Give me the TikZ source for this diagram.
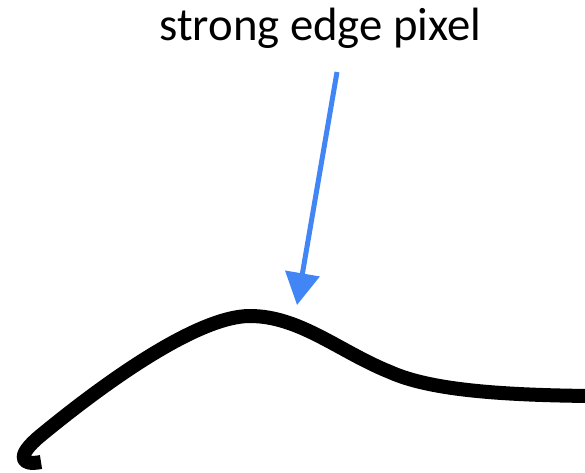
\documentclass[tikz,border=0pt]{standalone}
\usepackage{fontspec}
\setmainfont{Carlito}
\usetikzlibrary{arrows.meta}
\definecolor{pointerblue}{HTML}{4285F4}
\tikzset{
  caption/.style={font=\fontsize{46.7}{56}\selectfont, inner sep=0pt, anchor=base},
  pointer/.style={-{Triangle[length=32pt, width=34pt]}, line width=5pt, draw=pointerblue},
  edgeline/.style={line width=14pt, draw=black, line cap=butt, line join=round},
}
\begin{document}
\begin{tikzpicture}[x=1pt, y=-1pt]
\useasboundingbox (0,0) rectangle (585,472);

\node[caption] (label) at (320.5,40) {strong edge pixel};

\coordinate (tail) at (337,72);
\coordinate (tip) at (297,305);
\draw[pointer] (tail) -- (tip);

% the strong edge itself
\draw[edgeline] (41,462) .. controls (20,466) and (16,456) .. (40,436)
  .. controls (80,403) and (190,316) .. (250,316)
  .. controls (300,316) and (340,352) .. (390,372)
  .. controls (430,390) and (500,395) .. (590,396);

\end{tikzpicture}
\end{document}
